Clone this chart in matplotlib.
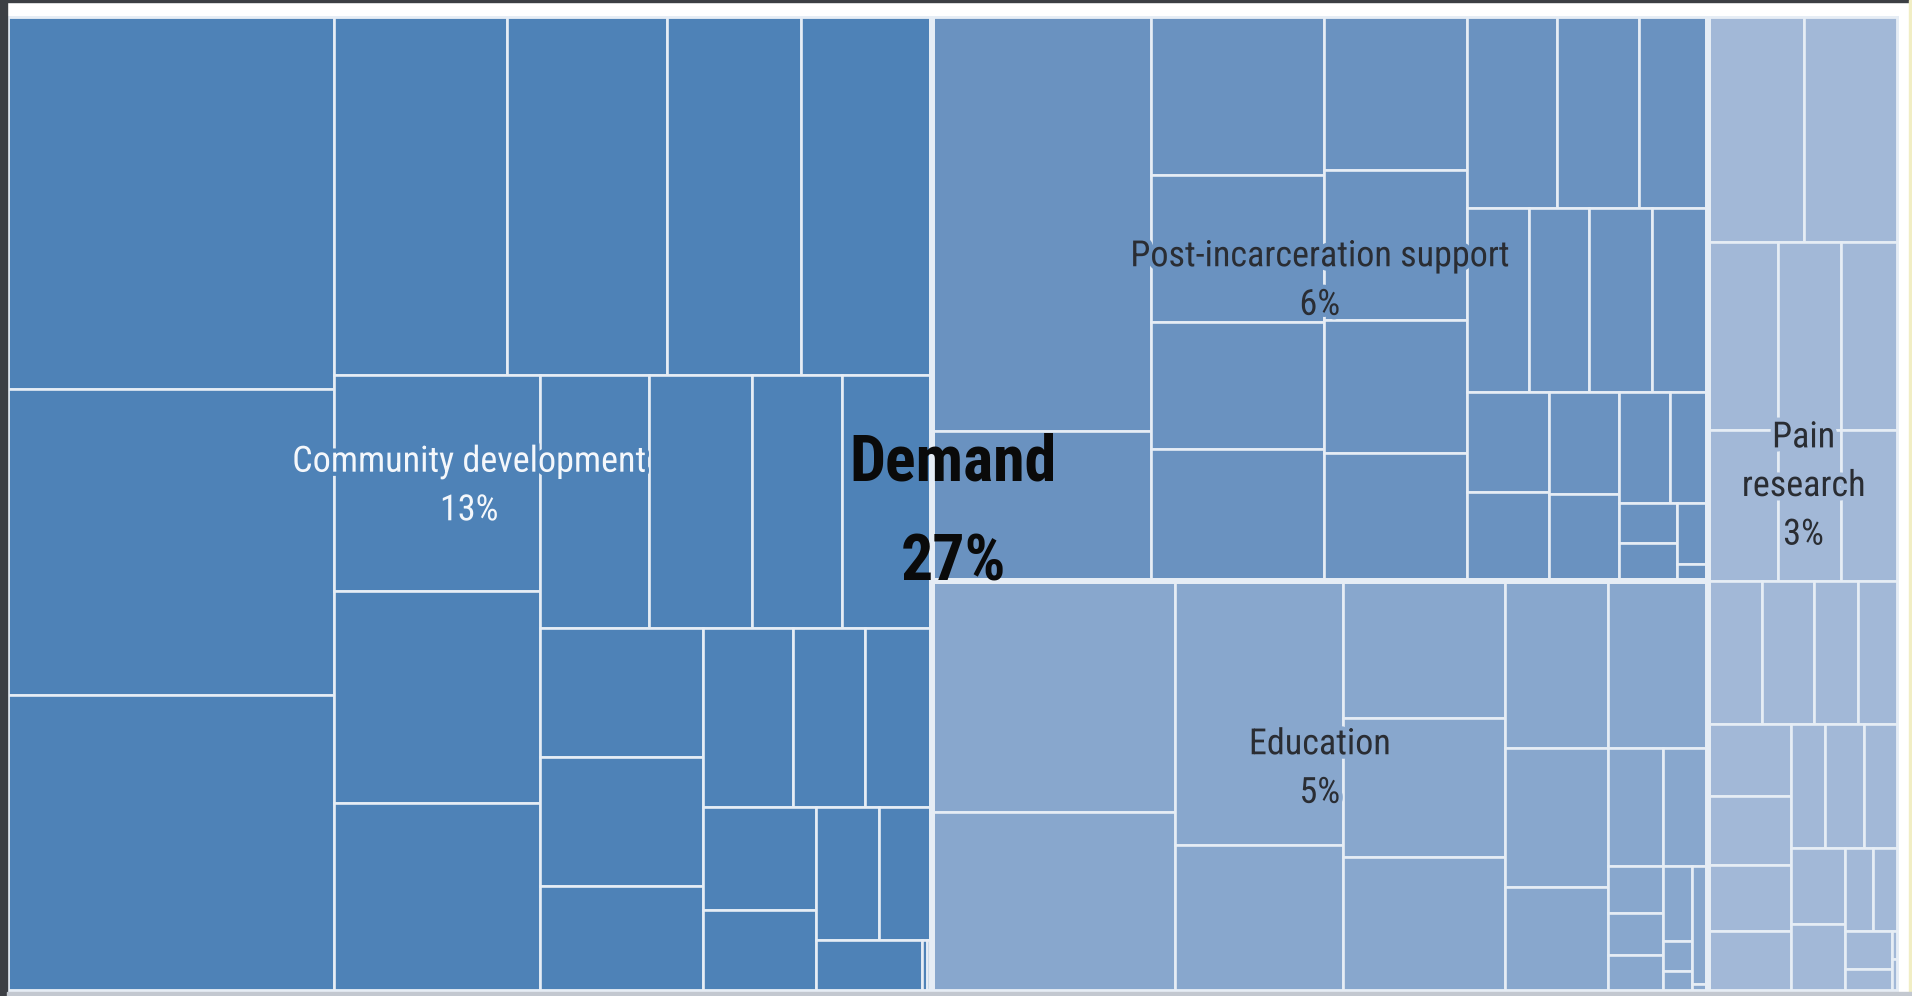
import matplotlib
matplotlib.use("Agg")
import matplotlib.pyplot as plt
from matplotlib import font_manager
from matplotlib.patches import Rectangle
import matplotlib.patheffects as pe

# cell sizes of each group, nested as ('h', [...]) = side by side, ('v', [...]) = stacked
community = ('h', [
    ('v', [8109, 6652, 6466]),
    ('v', [
        ('h', [4160, 3806, 3216, 3127]),
        ('h', [
            ('v', [2956, 2906, 2589]),
            ('v', [
                ('h', [1842, 1718, 1511, 1511]),
                ('h', [
                    ('v', [1410, 1410, 1157]),
                    ('v', [
                        ('h', [1073, 853, 794]),
                        ('h', [
                            ('v', [774, 610]),
                            ('v', [('h', [556, 469]), ('h', [370, 17, 17])]),
                        ]),
                    ]),
                ]),
            ]),
        ]),
    ]),
])

post_incarceration = ('h', [
    ('v', [6048, 2196]),
    ('v', [1832, 1690, 1463, 1519]),
    ('v', [1475, 1428, 1274, 1227]),
    ('v', [
        ('h', [1154, 1045, 889]),
        ('h', [760, 730, 775, 685]),
        ('h', [
            ('v', [543, 482]),
            ('v', [476, 412]),
            ('v', [('h', [378, 279]), ('h', [('v', [150, 146]), ('v', [127, 36])])]),
        ]),
    ]),
])

education = ('h', [
    ('v', [3740, 2920]),
    ('v', [2953, 1642]),
    ('v', [1476, 1503, 1450]),
    ('v', [1148, 961, 723]),
    ('v', [
        1107,
        ('h', [
            ('v', [432, 171, 153, 135]),
            ('v', [355, ('h', [('v', [146, 58, 41]), ('v', [125, 8])])]),
        ]),
    ]),
])

pain_research = ('v', [
    ('h', [1443, 1425]),
    ('h', [('v', [878, 707]), ('v', [785, 632]), ('v', [724, 583])]),
    ('h', [515, 491, 421, 386]),
    ('h', [
        ('v', [395, 382, 362, 335]),
        ('v', [
            ('h', [286, 326, 286]),
            ('h', [
                ('v', [273, 246]),
                ('v', [('h', [156, 143]), ('h', [('v', [118, 72]), ('v', [14, 16])])]),
            ]),
        ]),
    ]),
])

group_labels = ['Community development', 'Post-incarceration support', 'Education', 'Pain\nresearch']
group_shares = [13, 6, 5, 3]
group_colors = ['#4e82b7', '#6a92c0', '#88a7cd', '#a2b8d7']
text_colors = ['#f4f7fb', '#2a2d33', '#2a2d33', '#2a2d33']
total_label = 'Demand'
total_share = 27

# whole view: community | (post-incarceration over education) | pain research
tree = ('h', [community, ('v', [post_incarceration, education]), pain_research])
groups = [community, post_incarceration, education, pain_research]


def size(node):
    if isinstance(node, tuple):
        return sum(size(k) for k in node[1])
    return node


def layout(node, x, y, w, h, out):
    if not isinstance(node, tuple):
        out.append((x, y, w, h))
        return
    kind, kids = node
    total = size(node)
    for k in kids:
        f = size(k) / total
        if kind == 'h':
            layout(k, x, y, w * f, h, out)
            x += w * f
        else:
            layout(k, x, y, w, h * f, out)
            y += h * f


def find(node, target, x, y, w, h):
    # returns rectangle of a sub node
    if node is target:
        return (x, y, w, h)
    if not isinstance(node, tuple):
        return None
    kind, kids = node
    total = size(node)
    for k in kids:
        f = size(k) / total
        if kind == 'h':
            r = find(k, target, x, y, w * f, h)
            x += w * f
        else:
            r = find(k, target, x, y, w, h * f)
            y += h * f
        if r:
            return r
    return None


# narrowest installed face available
names = {f.name for f in font_manager.fontManager.ttflist}
if 'Roboto Condensed' in names:
    font, fs, fs_big = ['Roboto Condensed', 'DejaVu Sans'], 26, 46
elif 'Roboto' in names:
    font, fs, fs_big = ['Roboto', 'DejaVu Sans'], 23, 40
else:
    font, fs, fs_big = ['Liberation Sans', 'DejaVu Sans'], 23, 40

W, H = 1892.0, 976.0
fig = plt.figure(figsize=(19.12, 9.96), dpi=100)
fig.patch.set_facecolor('white')
ax = fig.add_axes([7 / 1912, 4 / 996, W / 1912, H / 996])
ax.set_xlim(0, W)
ax.set_ylim(H, 0)
ax.axis('off')

line_col = '#e6edf5'

for g, col in zip(groups, group_colors):
    gx, gy, gw, gh = find(tree, g, 0, 0, W, H)
    cells = []
    layout(g, gx, gy, gw, gh, cells)
    for (x, y, w, h) in cells:
        ax.add_patch(Rectangle((x, y), w, h, facecolor=col, edgecolor=line_col, linewidth=1.9))

for g, lab, share, col, tc in zip(groups, group_labels, group_shares, group_colors, text_colors):
    gx, gy, gw, gh = find(tree, g, 0, 0, W, H)
    ax.add_patch(Rectangle((gx, gy), gw, gh, fill=False, edgecolor=line_col, linewidth=4.2))
    ax.text(gx + gw / 2, gy + gh / 2 - 18, f'{lab}\n{share}%', ha='center', va='center',
            fontsize=fs, color=tc, family=font, linespacing=1.45,
            path_effects=[pe.withStroke(linewidth=6, foreground=col)])

ax.text(W / 2, H / 2 + 9, f'{total_label}\n{total_share}%', ha='center', va='center',
        fontsize=fs_big, fontweight='bold', color='#0a0a0a', family=font, linespacing=1.8)

# frame of the screenshot
fig.add_artist(Rectangle((0, 0), 7 / 1912, 1, transform=fig.transFigure, color='#3c3f44'))
fig.add_artist(Rectangle((0, 1 - 2 / 996), 1, 2 / 996, transform=fig.transFigure, color='#3c3f44'))
fig.add_artist(Rectangle((1 - 3 / 1912, 0), 3 / 1912, 1, transform=fig.transFigure, color='#f1eec4'))
fig.add_artist(Rectangle((7 / 1912, 0), 1, 4 / 996, transform=fig.transFigure, color='#c3c8d0'))

fig.savefig('out.png', dpi=100)
